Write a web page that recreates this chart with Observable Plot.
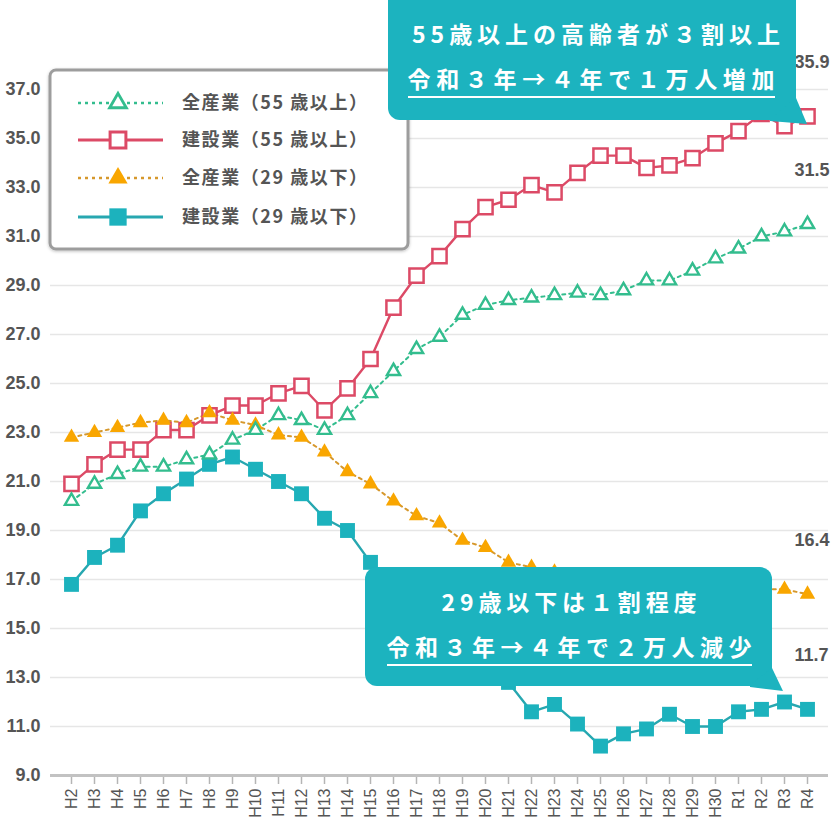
<!DOCTYPE html>
<html><head><meta charset="utf-8">
<script src="https://cdn.jsdelivr.net/npm/d3@7"></script>
<script src="https://cdn.jsdelivr.net/npm/@observablehq/plot@0.6"></script>
<style>
body{margin:0;background:#fff;}
#wrap{position:relative;width:836px;height:823px;overflow:hidden;}
#wrap svg.ov{position:absolute;left:0;top:0;}
</style></head><body><div id="wrap"></div>
<script>
const categories = ["H2","H3","H4","H5","H6","H7","H8","H9","H10","H11","H12","H13","H14","H15","H16","H17","H18","H19","H20","H21","H22","H23","H24","H25","H26","H27","H28","H29","H30","R1","R2","R3","R4"];
const all55 = [20.2,20.9,21.3,21.6,21.6,21.9,22.1,22.7,23.1,23.7,23.5,23.1,23.7,24.6,25.5,26.4,26.9,27.8,28.2,28.4,28.5,28.6,28.7,28.6,28.8,29.2,29.2,29.6,30.1,30.5,31.0,31.2,31.5];
const cons55 = [20.9,21.7,22.3,22.3,23.1,23.1,23.7,24.1,24.1,24.6,24.9,23.9,24.8,26.0,28.1,29.4,30.2,31.3,32.2,32.5,33.1,32.8,33.6,34.3,34.3,33.8,33.9,34.2,34.8,35.3,36.0,35.5,35.9];
const all29 = [22.8,23.0,23.2,23.4,23.5,23.4,23.8,23.5,23.3,22.9,22.8,22.2,21.4,20.9,20.2,19.6,19.3,18.6,18.3,17.7,17.5,17.3,17.1,16.9,16.8,16.6,16.5,16.4,16.4,16.5,16.6,16.6,16.4];
const cons29 = [16.8,17.9,18.4,19.8,20.5,21.1,21.7,22.0,21.5,21.0,20.5,19.5,19.0,17.7,16.8,16.0,15.3,14.5,13.6,12.8,11.6,11.9,11.1,10.2,10.7,10.9,11.5,11.0,11.0,11.6,11.7,12.0,11.7];
const yTicks = [9,11,13,15,17,19,21,23,25,27,29,31,33,35,37];
const seriesNames = ["全産業（55 歳以上）","建設業（55 歳以上）","全産業（29 歳以下）","建設業（29 歳以下）"];
const callout1 = ["55歳以上の高齢者が３割以上","令和３年→４年で１万人増加"];
const callout2 = ["29歳以下は１割程度","令和３年→４年で２万人減少"];

const GREEN="#33bd8e", RED="#dc4a66", ORANGE="#f9a600", ORANGE_LINE="#d6982c", TEAL="#1cb2bd", TEAL_LINE="#27a7b0", BOX="#1cb3bf";
const styles = [
  {name:seriesNames[0], vals:all55, stroke:GREEN, line:GREEN, dash:"3,4", symbol:"triangle", fill:"white", r:4.9, sw:2.4, lw:2},
  {name:seriesNames[1], vals:cons55, stroke:RED, line:RED, dash:null, symbol:"square", fill:"white", r:8.0, sw:2.5, lw:2.4},
  {name:seriesNames[2], vals:all29, stroke:"none", line:ORANGE_LINE, dash:"3,4", symbol:"triangle", fill:ORANGE, r:5.7, sw:0, lw:2},
  {name:seriesNames[3], vals:cons29, stroke:"none", line:TEAL_LINE, dash:null, symbol:"square", fill:TEAL, r:8.4, sw:0, lw:2.4}
];
const rowsOf = s => categories.map((c,i)=>({cat:c, v:s.vals[i], name:s.name}));
const order = [1,3,2,0];
const font = "'Liberation Sans', Arial, sans-serif";

const marks = [
  Plot.ruleY(yTicks.filter(d=>d>9), {stroke:"#e6e6e6", strokeWidth:1.5}),
  Plot.axisY(yTicks, {tickSize:0, tickPadding:10, tickFormat:d=>d.toFixed(1), fontSize:18, fontWeight:"bold", fill:"#555", label:null}),
  Plot.axisX({tickRotate:-90, tickSize:9, tickPadding:4, fontSize:16, fill:"#555", stroke:"#b5b5b5", strokeWidth:1.5, label:null}),
  Plot.ruleY([9], {stroke:"#c2c2c2", strokeWidth:3})
];
for (const k of order) {
  const s = styles[k];
  marks.push(Plot.line(rowsOf(s), {x:"cat", y:"v", stroke:s.line, strokeWidth:s.lw, strokeDasharray:s.dash || undefined}));
}
for (const k of order) {
  const s = styles[k];
  marks.push(Plot.dot(rowsOf(s), {x:"cat", y:"v", symbol:s.symbol, r:s.r, fill:s.fill, stroke:s.stroke, strokeWidth:s.sw}));
}
for (const s of styles) {
  const r = rowsOf(s);
  marks.push(Plot.text([r[r.length-1]], {x:"cat", y:"v", text:d=>d.v.toFixed(1), dy:-54, dx:-13, textAnchor:"start", fontSize:18, fontWeight:"bold", fill:"#555"}));
}

const plot = Plot.plot({
  width:836, height:823, marginLeft:50, marginRight:8, marginTop:89, marginBottom:48,
  style:{fontFamily:font, background:"transparent"},
  x:{type:"point", domain:categories, padding:0.47},
  y:{domain:[9,37]},
  marks
});
const wrap = document.getElementById("wrap");
wrap.appendChild(plot);

// overlay: legend + callouts
const ov = d3.select(wrap).append("svg").attr("class","ov").attr("width",836).attr("height",823);
const jp = "'Noto Sans CJK JP','Noto Sans',sans-serif";

const defs = ov.append("defs");
const f = defs.append("filter").attr("id","sh").attr("x","-10%").attr("y","-10%").attr("width","120%").attr("height","130%");
f.append("feDropShadow").attr("dx",0).attr("dy",1).attr("stdDeviation",1.5).attr("flood-color","#000").attr("flood-opacity",0.25);
ov.append("rect").attr("x",50).attr("y",70).attr("width",358).attr("height",179).attr("rx",6)
  .attr("fill","#fff").attr("stroke","#9d9d9d").attr("stroke-width",3).attr("filter","url(#sh)");
const rowY = [103,140,178,217];
styles.forEach((s,i)=>{
  const g = ov.append("g").attr("transform",`translate(0,${rowY[i]})`);
  g.append("line").attr("x1",78).attr("x2",163).attr("y1",0).attr("y2",0)
    .attr("stroke",s.line).attr("stroke-width",s.lw+0.4).attr("stroke-dasharray",s.dash);
  const sym = s.symbol==="triangle" ? d3.symbolTriangle : d3.symbolSquare;
  const size = s.symbol==="triangle" ? (s.fill==="white"?120:160) : (s.fill==="white"?250:300);
  g.append("path").attr("transform","translate(118,0)").attr("d", d3.symbol(sym, size)())
    .attr("fill", s.fill).attr("stroke", s.stroke).attr("stroke-width", s.sw+0.5);
  g.append("text").attr("x",182).attr("y",0).attr("dy","0.36em").attr("font-family",jp).attr("font-size",18)
    .attr("font-weight","bold").attr("fill","#555").attr("textLength",185).attr("lengthAdjust","spacing").text(s.name);
});

function callout(x0,y0,x1,y1,tail,lines,centers,baselines,lens,ul){
  const g = ov.append("g");
  g.append("rect").attr("x",x0).attr("y",y0).attr("width",x1-x0).attr("height",y1-y0).attr("rx",12).attr("fill",BOX);
  g.append("polygon").attr("points",tail.map(p=>p.join(",")).join(" ")).attr("fill",BOX);
  lines.forEach((t,i)=>{
    g.append("text").attr("x",centers[i]).attr("y",baselines[i]).attr("text-anchor","middle")
      .attr("font-family",jp).attr("font-size",23).attr("font-weight","bold").attr("fill","#fff")
      .attr("textLength",lens[i]).attr("lengthAdjust","spacing").text(t);
  });
  g.append("line").attr("x1",ul[0]).attr("x2",ul[1]).attr("y1",ul[2]).attr("y2",ul[2]).attr("stroke","#fff").attr("stroke-width",2);
}
callout(388,-12,796,120,[[770,119],[796,98],[807,124],[770,121]],callout1,[596,591],[43,88],[368,367],[408,775,97]);
callout(365,567,772,686,[[750,685],[772,668],[783,691],[750,687]],callout2,[569,569],[611,656],[255,365],[387,752,665]);
</script></body></html>
